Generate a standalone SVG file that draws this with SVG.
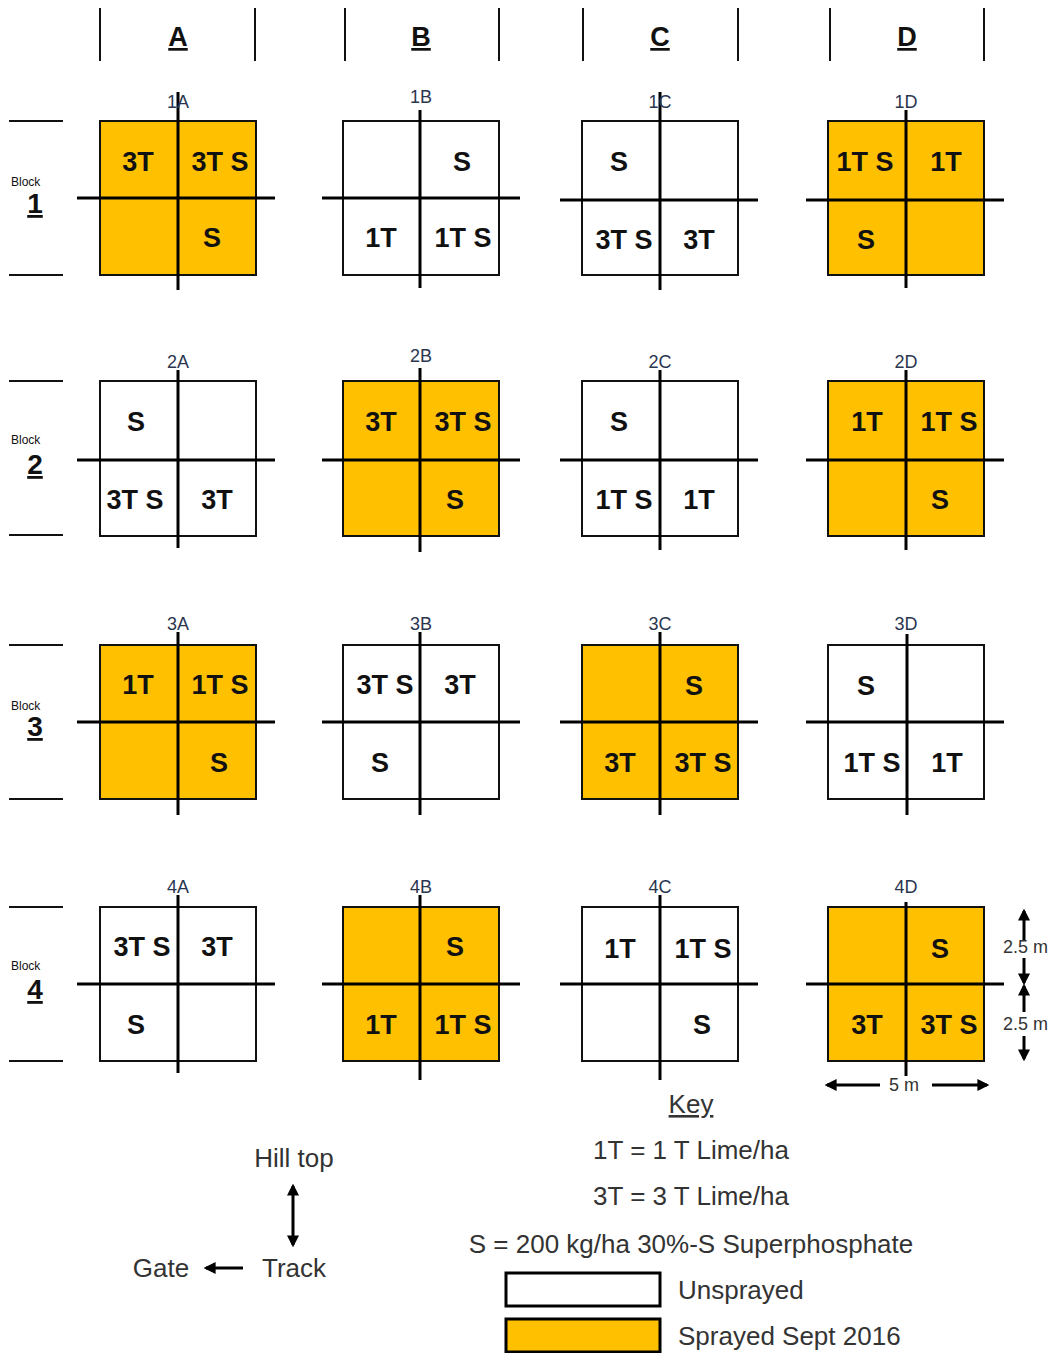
<svg xmlns="http://www.w3.org/2000/svg" width="1057" height="1353" viewBox="0 0 1057 1353">
<style>
text{font-family:"Liberation Sans",Arial,sans-serif;}
.hdr{font-size:27px;font-weight:bold;text-anchor:middle;text-decoration:underline;fill:#111;}
.hl{stroke:#111;stroke-width:2;}
.blk{font-size:12px;fill:#111;}
.bn{font-size:28px;font-weight:bold;text-anchor:middle;text-decoration:underline;fill:#111;}
.sq{stroke:#111;stroke-width:2;}
.on{fill:#FFC000;}
.off{fill:#fff;}
.cl{stroke:#000;stroke-width:3;}
.lab{font-size:18px;text-anchor:middle;fill:#2a3550;}
.q{font-size:27px;font-weight:bold;text-anchor:middle;fill:#111;}
.key{font-size:26px;text-anchor:middle;fill:#333;}
.kl{font-size:26px;fill:#333;}
.dim{font-size:18px;fill:#333;}
.ar{stroke:#000;stroke-width:3;fill:none;}
</style>
<defs>
<marker id="ah" viewBox="0 0 10 10" refX="8" refY="5" markerWidth="4" markerHeight="4" orient="auto-start-reverse"><path d="M0,0 L10,5 L0,10 z" fill="#000"/></marker>
</defs>

<g id="header">
<line class="hl" x1="100" y1="8" x2="100" y2="61"/><line class="hl" x1="255" y1="8" x2="255" y2="61"/>
<line class="hl" x1="345" y1="8" x2="345" y2="61"/><line class="hl" x1="499" y1="8" x2="499" y2="61"/>
<line class="hl" x1="583" y1="8" x2="583" y2="61"/><line class="hl" x1="738" y1="8" x2="738" y2="61"/>
<line class="hl" x1="830" y1="8" x2="830" y2="61"/><line class="hl" x1="984" y1="8" x2="984" y2="61"/>
<text class="hdr" x="178" y="46">A</text>
<text class="hdr" x="421" y="46">B</text>
<text class="hdr" x="660" y="46">C</text>
<text class="hdr" x="907" y="46">D</text>
</g>

<g id="blocks">
<line class="hl" x1="9" y1="121" x2="63" y2="121"/><line class="hl" x1="9" y1="275" x2="63" y2="275"/>
<text class="blk" x="11" y="186">Block</text><text class="bn" x="35" y="213">1</text>
<line class="hl" x1="9" y1="381" x2="63" y2="381"/><line class="hl" x1="9" y1="535" x2="63" y2="535"/>
<text class="blk" x="11" y="444">Block</text><text class="bn" x="35" y="474">2</text>
<line class="hl" x1="9" y1="645" x2="63" y2="645"/><line class="hl" x1="9" y1="799" x2="63" y2="799"/>
<text class="blk" x="11" y="710">Block</text><text class="bn" x="35" y="736">3</text>
<line class="hl" x1="9" y1="907" x2="63" y2="907"/><line class="hl" x1="9" y1="1061" x2="63" y2="1061"/>
<text class="blk" x="11" y="970">Block</text><text class="bn" x="35" y="999">4</text>
</g>

<!-- Row 1 -->
<g id="plot-1A">
<rect class="sq on" x="100" y="121" width="156" height="154"/>
<line class="cl" x1="77" y1="198" x2="275" y2="198"/><line class="cl" x1="178" y1="92" x2="178" y2="290"/>
<text class="lab" x="178" y="108">1A</text>
<text class="q" x="138" y="171">3T</text><text class="q" x="220" y="171">3T S</text><text class="q" x="212" y="247">S</text>
</g>
<g id="plot-1B">
<rect class="sq off" x="343" y="121" width="156" height="154"/>
<line class="cl" x1="322" y1="198" x2="520" y2="198"/><line class="cl" x1="420" y1="110" x2="420" y2="288"/>
<text class="lab" x="421" y="103">1B</text>
<text class="q" x="462" y="171">S</text><text class="q" x="381" y="247">1T</text><text class="q" x="463" y="247">1T S</text>
</g>
<g id="plot-1C">
<rect class="sq off" x="582" y="121" width="156" height="154"/>
<line class="cl" x1="560" y1="200" x2="758" y2="200"/><line class="cl" x1="660" y1="92" x2="660" y2="290"/>
<text class="lab" x="660" y="108">1C</text>
<text class="q" x="619" y="171">S</text><text class="q" x="624" y="249">3T S</text><text class="q" x="699" y="249">3T</text>
</g>
<g id="plot-1D">
<rect class="sq on" x="828" y="121" width="156" height="154"/>
<line class="cl" x1="806" y1="200" x2="1004" y2="200"/><line class="cl" x1="906" y1="110" x2="906" y2="288"/>
<text class="lab" x="906" y="108">1D</text>
<text class="q" x="865" y="171">1T S</text><text class="q" x="946" y="171">1T</text><text class="q" x="866" y="249">S</text>
</g>

<!-- Row 2 -->
<g id="plot-2A">
<rect class="sq off" x="100" y="381" width="156" height="155"/>
<line class="cl" x1="77" y1="460" x2="275" y2="460"/><line class="cl" x1="178" y1="370" x2="178" y2="548"/>
<text class="lab" x="178" y="368">2A</text>
<text class="q" x="136" y="431">S</text><text class="q" x="135" y="509">3T S</text><text class="q" x="217" y="509">3T</text>
</g>
<g id="plot-2B">
<rect class="sq on" x="343" y="381" width="156" height="155"/>
<line class="cl" x1="322" y1="460" x2="520" y2="460"/><line class="cl" x1="420" y1="368" x2="420" y2="552"/>
<text class="lab" x="421" y="362">2B</text>
<text class="q" x="381" y="431">3T</text><text class="q" x="463" y="431">3T S</text><text class="q" x="455" y="509">S</text>
</g>
<g id="plot-2C">
<rect class="sq off" x="582" y="381" width="156" height="155"/>
<line class="cl" x1="560" y1="460" x2="758" y2="460"/><line class="cl" x1="660" y1="370" x2="660" y2="550"/>
<text class="lab" x="660" y="368">2C</text>
<text class="q" x="619" y="431">S</text><text class="q" x="624" y="509">1T S</text><text class="q" x="699" y="509">1T</text>
</g>
<g id="plot-2D">
<rect class="sq on" x="828" y="381" width="156" height="155"/>
<line class="cl" x1="806" y1="460" x2="1004" y2="460"/><line class="cl" x1="906" y1="370" x2="906" y2="550"/>
<text class="lab" x="906" y="368">2D</text>
<text class="q" x="867" y="431">1T</text><text class="q" x="949" y="431">1T S</text><text class="q" x="940" y="509">S</text>
</g>

<!-- Row 3 -->
<g id="plot-3A">
<rect class="sq on" x="100" y="645" width="156" height="154"/>
<line class="cl" x1="77" y1="722" x2="275" y2="722"/><line class="cl" x1="178" y1="632" x2="178" y2="815"/>
<text class="lab" x="178" y="630">3A</text>
<text class="q" x="138" y="694">1T</text><text class="q" x="220" y="694">1T S</text><text class="q" x="219" y="772">S</text>
</g>
<g id="plot-3B">
<rect class="sq off" x="343" y="645" width="156" height="154"/>
<line class="cl" x1="322" y1="722" x2="520" y2="722"/><line class="cl" x1="420" y1="632" x2="420" y2="815"/>
<text class="lab" x="421" y="630">3B</text>
<text class="q" x="385" y="694">3T S</text><text class="q" x="460" y="694">3T</text><text class="q" x="380" y="772">S</text>
</g>
<g id="plot-3C">
<rect class="sq on" x="582" y="645" width="156" height="154"/>
<line class="cl" x1="560" y1="722" x2="758" y2="722"/><line class="cl" x1="660" y1="632" x2="660" y2="815"/>
<text class="lab" x="660" y="630">3C</text>
<text class="q" x="694" y="695">S</text><text class="q" x="620" y="772">3T</text><text class="q" x="703" y="772">3T S</text>
</g>
<g id="plot-3D">
<rect class="sq off" x="828" y="645" width="156" height="154"/>
<line class="cl" x1="806" y1="722" x2="1004" y2="722"/><line class="cl" x1="907" y1="634" x2="907" y2="815"/>
<text class="lab" x="906" y="630">3D</text>
<text class="q" x="866" y="695">S</text><text class="q" x="872" y="772">1T S</text><text class="q" x="947" y="772">1T</text>
</g>

<!-- Row 4 -->
<g id="plot-4A">
<rect class="sq off" x="100" y="907" width="156" height="154"/>
<line class="cl" x1="77" y1="984" x2="275" y2="984"/><line class="cl" x1="178" y1="895" x2="178" y2="1073"/>
<text class="lab" x="178" y="893">4A</text>
<text class="q" x="142" y="956">3T S</text><text class="q" x="217" y="956">3T</text><text class="q" x="136" y="1034">S</text>
</g>
<g id="plot-4B">
<rect class="sq on" x="343" y="907" width="156" height="154"/>
<line class="cl" x1="322" y1="984" x2="520" y2="984"/><line class="cl" x1="420" y1="895" x2="420" y2="1080"/>
<text class="lab" x="421" y="893">4B</text>
<text class="q" x="455" y="956">S</text><text class="q" x="381" y="1034">1T</text><text class="q" x="463" y="1034">1T S</text>
</g>
<g id="plot-4C">
<rect class="sq off" x="582" y="907" width="156" height="154"/>
<line class="cl" x1="560" y1="984" x2="758" y2="984"/><line class="cl" x1="660" y1="895" x2="660" y2="1080"/>
<text class="lab" x="660" y="893">4C</text>
<text class="q" x="620" y="958">1T</text><text class="q" x="703" y="958">1T S</text><text class="q" x="702" y="1034">S</text>
</g>
<g id="plot-4D">
<rect class="sq on" x="828" y="907" width="156" height="154"/>
<line class="cl" x1="806" y1="984" x2="1004" y2="984"/><line class="cl" x1="906" y1="902" x2="906" y2="1076"/>
<text class="lab" x="906" y="893">4D</text>
<text class="q" x="940" y="958">S</text><text class="q" x="867" y="1034">3T</text><text class="q" x="949" y="1034">3T S</text>
</g>

<g id="connectors">
<line class="ar" x1="1024" y1="940" x2="1024" y2="911" marker-end="url(#ah)"/>
<line class="ar" x1="1024" y1="958" x2="1024" y2="983" marker-end="url(#ah)"/>
<line class="ar" x1="1024" y1="1012" x2="1024" y2="986" marker-end="url(#ah)"/>
<line class="ar" x1="1024" y1="1036" x2="1024" y2="1059" marker-end="url(#ah)"/>
<line class="ar" x1="880" y1="1085" x2="827" y2="1085" marker-end="url(#ah)"/>
<line class="ar" x1="932" y1="1085" x2="987" y2="1085" marker-end="url(#ah)"/>
<line class="ar" x1="293" y1="1186" x2="293" y2="1245" marker-start="url(#ah)" marker-end="url(#ah)"/>
<line class="ar" x1="243" y1="1268" x2="206" y2="1268" marker-end="url(#ah)"/>
</g>

<g id="dimensions">
<text class="dim" x="1003" y="953">2.5 m</text>
<text class="dim" x="1003" y="1030">2.5 m</text>
<text class="dim" x="889" y="1091">5 m</text>
</g>

<g id="orientation">
<text class="kl" x="294" y="1167" text-anchor="middle">Hill top</text>
<text class="kl" x="161" y="1277" text-anchor="middle">Gate</text>
<text class="kl" x="294" y="1277" text-anchor="middle">Track</text>
</g>

<g id="key">
<text class="key" x="691" y="1113" text-decoration="underline">Key</text>
<text class="key" x="691" y="1159">1T = 1 T Lime/ha</text>
<text class="key" x="691" y="1205">3T = 3 T Lime/ha</text>
<text class="key" x="691" y="1253">S = 200 kg/ha 30%-S Superphosphate</text>
<rect x="506" y="1273" width="154" height="33" fill="#fff" stroke="#000" stroke-width="3"/>
<text class="kl" x="678" y="1299">Unsprayed</text>
<rect x="506" y="1319" width="154" height="33" fill="#FFC000" stroke="#000" stroke-width="3"/>
<text class="kl" x="678" y="1345">Sprayed Sept 2016</text>
</g>
</svg>
